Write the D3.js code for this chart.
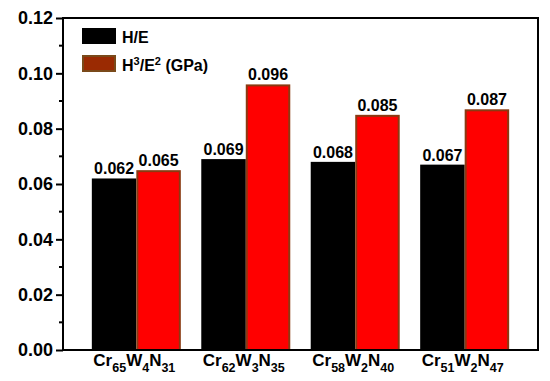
<!DOCTYPE html>
<html>
<head>
<meta charset="utf-8">
<script src="https://cdn.jsdelivr.net/npm/d3@7"></script>
<style>
  body { margin: 0; background: #fff; }
  svg { display: block; font-family: "Liberation Sans", Arial, sans-serif; font-weight: bold; }
</style>
</head>
<body>
<div id="chart"></div>
<script>
// Data
const categories = ["Cr65W4N31", "Cr62W3N35", "Cr58W2N40", "Cr51W2N47"];
// category labels as [text, subscript] pieces
const categoryParts = [
  [["Cr", "65"], ["W", "4"], ["N", "31"]],
  [["Cr", "62"], ["W", "3"], ["N", "35"]],
  [["Cr", "58"], ["W", "2"], ["N", "40"]],
  [["Cr", "51"], ["W", "2"], ["N", "47"]]
];
const heValues = [0.062, 0.069, 0.068, 0.067];
const h3e2Values = [0.065, 0.096, 0.085, 0.087];
const yTicks = [0, 0.02, 0.04, 0.06, 0.08, 0.10, 0.12];
const yMinorTicks = [0.01, 0.03, 0.05, 0.07, 0.09, 0.11];

// Layout
const width = 550, height = 381;
const margin = { top: 18, right: 12, bottom: 31, left: 63 };
const plotW = width - margin.left - margin.right;
const plotH = height - margin.top - margin.bottom;
const barW = 44.5;

const svg = d3.select("#chart")
  .append("svg")
    .attr("width", width)
    .attr("height", height);

const g = svg.append("g")
  .attr("transform", `translate(${margin.left},${margin.top})`);

const x = d3.scalePoint()
  .domain(categories)
  .range([0, plotW])
  .padding(0.67);

const y = d3.scaleLinear()
  .domain([0, 0.12])
  .range([plotH, 0]);

// bars: H/E (left) and H3/E2 (right)
const rows = categories.map((c, i) => ({ cat: c, he: heValues[i], h3: h3e2Values[i] }));

g.selectAll("rect.he")
  .data(rows)
  .join("rect")
    .attr("class", "he")
    .attr("x", d => x(d.cat) - barW)
    .attr("y", d => y(d.he))
    .attr("width", barW)
    .attr("height", d => plotH - y(d.he))
    .attr("fill", "#000");

g.selectAll("rect.h3")
  .data(rows)
  .join("rect")
    .attr("class", "h3")
    .attr("x", d => x(d.cat) + 1)
    .attr("y", d => y(d.h3) + 1)
    .attr("width", barW - 2)
    .attr("height", d => plotH - y(d.h3) - 1)
    .attr("fill", "#ff0000")
    .attr("stroke", "#8a3a12")
    .attr("stroke-width", 2);

// value labels
g.selectAll("text.heLab")
  .data(rows)
  .join("text")
    .attr("class", "heLab")
    .attr("x", d => x(d.cat) - barW / 2)
    .attr("y", d => y(d.he) - 4)
    .attr("text-anchor", "middle")
    .attr("font-size", 16)
    .text(d => d3.format(".3f")(d.he));

g.selectAll("text.h3Lab")
  .data(rows)
  .join("text")
    .attr("class", "h3Lab")
    .attr("x", d => x(d.cat) + barW / 2)
    .attr("y", d => y(d.h3) - 4)
    .attr("text-anchor", "middle")
    .attr("font-size", 16)
    .text(d => d3.format(".3f")(d.h3));

// y axis
const yAxis = g.append("g")
  .call(d3.axisLeft(y).tickValues(yTicks).tickFormat(d3.format(".2f")).tickSize(7).tickPadding(3));
yAxis.select(".domain").remove();
yAxis.selectAll("line").attr("stroke", "#000").attr("stroke-width", 2);
yAxis.selectAll("text")
  .attr("font-size", 18)
  .attr("font-family", "'Liberation Sans', Arial, sans-serif")
  .attr("font-weight", "bold")
  .attr("fill", "#000");

g.append("g")
  .selectAll("line")
  .data(yMinorTicks)
  .join("line")
    .attr("x1", -4)
    .attr("x2", 0)
    .attr("y1", d => y(d))
    .attr("y2", d => y(d))
    .attr("stroke", "#000")
    .attr("stroke-width", 2);

// frame
g.append("rect")
  .attr("x", 0)
  .attr("y", 0)
  .attr("width", plotW)
  .attr("height", plotH)
  .attr("fill", "none")
  .attr("stroke", "#000")
  .attr("stroke-width", 2);

// category labels with subscripts
const catLab = g.selectAll("text.cat")
  .data(categoryParts)
  .join("text")
    .attr("class", "cat")
    .attr("x", (d, i) => x(categories[i]) - 2)
    .attr("y", plotH + 16)
    .attr("text-anchor", "middle")
    .attr("font-size", 17);

catLab.each(function(parts) {
  const t = d3.select(this);
  parts.forEach((p, k) => {
    t.append("tspan").attr("dy", k === 0 ? 0 : -6).text(p[0]);
    t.append("tspan").attr("dy", 6).attr("font-size", 12.5).text(p[1]);
  });
});

// legend
const legend = g.append("g").attr("transform", "translate(19,10)");
legend.append("rect")
  .attr("x", 0).attr("y", 0)
  .attr("width", 34).attr("height", 16)
  .attr("fill", "#000");
legend.append("text")
  .attr("x", 40).attr("y", 15)
  .attr("font-size", 16)
  .text("H/E");
legend.append("rect")
  .attr("x", 1).attr("y", 28)
  .attr("width", 32).attr("height", 15)
  .attr("fill", "#9a2a02")
  .attr("stroke", "#7a4a1a")
  .attr("stroke-width", 2);
const l2 = legend.append("text")
  .attr("x", 40).attr("y", 43)
  .attr("font-size", 16);
l2.append("tspan").text("H");
l2.append("tspan").attr("dy", -6).attr("font-size", 11).text("3");
l2.append("tspan").attr("dy", 6).text("/E");
l2.append("tspan").attr("dy", -6).attr("font-size", 11).text("2");
l2.append("tspan").attr("dy", 6).text(" (GPa)");
</script>
</body>
</html>
